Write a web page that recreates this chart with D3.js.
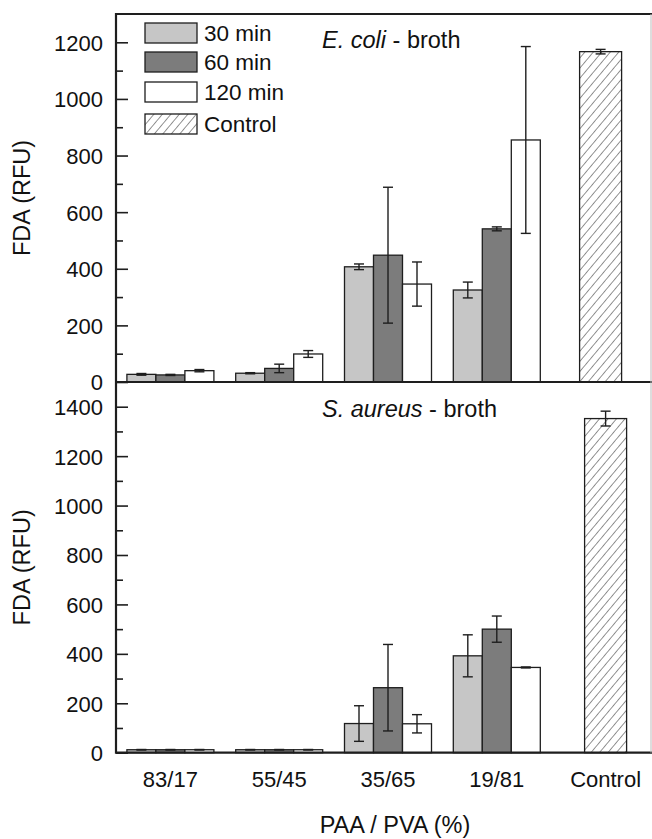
<!DOCTYPE html>
<html>
<head>
<meta charset="utf-8">
<script src="https://cdn.jsdelivr.net/npm/d3@7"></script>
<style>
  html, body { margin: 0; padding: 0; background: #fff; }
  svg { display: block; font-family: "Liberation Sans", Arial, sans-serif; }
</style>
</head>
<body>
<svg id="chart" width="652" height="839"></svg>
<script>
// Composition ratios (PAA / PVA, %) plus the untreated control
const categories = ["83/17", "55/45", "35/65", "19/81", "Control"];
const timepoints = ["30 min", "60 min", "120 min"];

// E. coli in broth: FDA fluorescence (RFU), mean and error
const ecoli30 = [27, 31, 407, 325];
const ecoli60 = [25, 48, 448, 541];
const ecoli120 = [40, 99, 346, 855];
const ecoliErr30 = [3, 2, 10, 28];
const ecoliErr60 = [2, 15, 240, 7];
const ecoliErr120 = [4, 12, 78, 330];
const ecoliControl = [1167];
const ecoliControlErr = [8];

// S. aureus in broth
const saureus30 = [12, 12, 118, 392];
const saureus60 = [12, 12, 263, 500];
const saureus120 = [12, 12, 117, 345];
const saureusErr30 = [1, 1, 72, 85];
const saureusErr60 = [1, 1, 175, 53];
const saureusErr120 = [1, 1, 37, 2];
const saureusControl = [1352];
const saureusControlErr = [30];

// Axis ticks
const ecoliTicks = [0, 200, 400, 600, 800, 1000, 1200];
const saureusTicks = [0, 200, 400, 600, 800, 1000, 1200, 1400];

const fills = { "30 min": "#c6c6c6", "60 min": "#7c7c7c", "120 min": "#ffffff" };
const ink = "#1e1e1e";

const svg = d3.select("#chart");

// Hatch for the control bars
const defs = svg.append("defs");
const pat = defs.append("pattern")
  .attr("id", "hatch")
  .attr("patternUnits", "userSpaceOnUse")
  .attr("width", 6.5).attr("height", 6.5)
  .attr("patternTransform", "rotate(40)");
pat.append("rect").attr("width", 6.5).attr("height", 6.5).attr("fill", "#fff");
pat.append("line")
  .attr("x1", 0).attr("y1", 0).attr("x2", 0).attr("y2", 6.5)
  .attr("stroke", "#3a3a3a").attr("stroke-width", 1.1);

const left = 116, right = 651;
const step = 108.8;
const x = d3.scaleBand()
  .domain(categories)
  .range([left, left + step * categories.length])
  .padding(0);
const sub = d3.scaleBand().domain(timepoints).range([-43.5, 43.5]).padding(0);
const controlW = 42;

function panel(cfg) {
  const y = d3.scaleLinear().domain([0, cfg.max]).range([cfg.bottom, cfg.top]);
  const g = svg.append("g");

  const groups = categories.slice(0, 4);
  const rows = [];
  timepoints.forEach((t, k) => {
    groups.forEach((c, i) => {
      rows.push({ cat: c, t: t, v: cfg.means[k][i], e: cfg.errs[k][i] });
    });
  });

  const cx = d => x(d.cat) + x.bandwidth() / 2;

  // grouped bars
  g.selectAll("rect.bar").data(rows).join("rect")
    .attr("class", "bar")
    .attr("x", d => cx(d) + sub(d.t))
    .attr("y", d => y(d.v))
    .attr("width", sub.bandwidth())
    .attr("height", d => y(0) - y(d.v))
    .attr("fill", d => fills[d.t])
    .attr("stroke", ink).attr("stroke-width", 1.3);

  // control bar
  const ctrl = [{ cat: "Control", v: cfg.control[0], e: cfg.controlErr[0] }];
  g.selectAll("rect.ctrl").data(ctrl).join("rect")
    .attr("class", "ctrl")
    .attr("x", d => cx(d) - controlW / 2 - cfg.ctrlShift)
    .attr("y", d => y(d.v))
    .attr("width", controlW)
    .attr("height", d => y(0) - y(d.v))
    .attr("fill", "url(#hatch)")
    .attr("stroke", ink).attr("stroke-width", 1.3);

  // error bars
  const errRows = rows.map(d => ({ x: cx(d) + sub(d.t) + sub.bandwidth() / 2, v: d.v, e: d.e }))
    .concat(ctrl.map(d => ({ x: cx(d) - cfg.ctrlShift, v: d.v, e: d.e })));
  const eg = g.selectAll("g.err").data(errRows).join("g").attr("class", "err")
    .attr("stroke", ink).attr("stroke-width", 1.4);
  eg.append("line")
    .attr("x1", d => d.x).attr("x2", d => d.x)
    .attr("y1", d => y(d.v - d.e)).attr("y2", d => y(d.v + d.e));
  eg.append("line")
    .attr("x1", d => d.x - 5).attr("x2", d => d.x + 5)
    .attr("y1", d => y(d.v + d.e)).attr("y2", d => y(d.v + d.e));
  eg.append("line")
    .attr("x1", d => d.x - 5).attr("x2", d => d.x + 5)
    .attr("y1", d => y(d.v - d.e)).attr("y2", d => y(d.v - d.e));

  // y axis with inward ticks and minor ticks
  const minor = d3.range(100, cfg.max, 200);
  g.append("g").attr("transform", `translate(${left},0)`)
    .call(d3.axisRight(y).tickValues(minor).tickSize(7).tickFormat(""))
    .call(a => a.select(".domain").remove())
    .call(a => a.selectAll("line").attr("stroke", ink).attr("stroke-width", 1.6));
  const ax = g.append("g").attr("transform", `translate(${left},0)`)
    .call(d3.axisRight(y).tickValues(cfg.ticks).tickSize(12).tickPadding(0).tickFormat(d3.format("d")));
  ax.select(".domain").remove();
  ax.selectAll("line").attr("stroke", ink).attr("stroke-width", 1.6);
  ax.selectAll("text")
    .attr("x", -13).attr("dy", "0.36em")
    .attr("text-anchor", "end")
    .attr("fill", "#111")
    .style("font-size", "22px");

  // y label
  g.append("text")
    .attr("transform", `translate(30,${(cfg.top + cfg.bottom) / 2}) rotate(-90)`)
    .attr("text-anchor", "middle")
    .attr("fill", "#111")
    .style("font-size", "23.5px")
    .text("FDA (RFU)");

  // panel title
  const title = g.append("text")
    .attr("x", 322).attr("y", cfg.titleY)
    .attr("fill", "#111")
    .style("font-size", "23.5px");
  title.append("tspan").style("font-style", "italic").text(cfg.organism);
  title.append("tspan").text(" - broth");

  return y;
}

const yTop = panel({
  max: 1300, top: 14, bottom: 382,
  means: [ecoli30, ecoli60, ecoli120],
  errs: [ecoliErr30, ecoliErr60, ecoliErr120],
  control: ecoliControl, controlErr: ecoliControlErr, ctrlShift: 5,
  ticks: ecoliTicks, organism: "E. coli", titleY: 48
});
const yBot = panel({
  max: 1500, top: 382, bottom: 752.7,
  means: [saureus30, saureus60, saureus120],
  errs: [saureusErr30, saureusErr60, saureusErr120],
  control: saureusControl, controlErr: saureusControlErr, ctrlShift: 0,
  ticks: saureusTicks, organism: "S. aureus", titleY: 417
});

// frame lines
const frame = svg.append("g").attr("stroke", ink).attr("stroke-width", 2.2).attr("fill", "none");
frame.append("line").attr("x1", left).attr("x2", 652).attr("y1", 14).attr("y2", 14);
frame.append("line").attr("x1", left).attr("x2", 652).attr("y1", yTop(0)).attr("y2", yTop(0));
frame.append("line").attr("x1", left).attr("x2", 652).attr("y1", yBot(0)).attr("y2", yBot(0));
frame.append("line").attr("x1", left).attr("x2", left).attr("y1", 13).attr("y2", yBot(0) + 1);
svg.append("line").attr("x1", right).attr("x2", right).attr("y1", 14).attr("y2", yBot(0))
  .attr("stroke", "#bbb").attr("stroke-width", 1);

// category labels
svg.append("g").selectAll("text").data(categories).join("text")
  .attr("x", d => x(d) + x.bandwidth() / 2)
  .attr("y", 787)
  .attr("text-anchor", "middle")
  .attr("fill", "#111")
  .style("font-size", "22px")
  .text(d => d);

svg.append("text")
  .attr("x", 395).attr("y", 833)
  .attr("text-anchor", "middle")
  .attr("fill", "#111")
  .style("font-size", "23.5px")
  .text("PAA / PVA (%)");

// legend
const legend = svg.append("g").attr("transform", "translate(145,23)");
const legendItems = timepoints.map(t => ({ label: t, fill: fills[t] }))
  .concat([{ label: "Control", fill: "url(#hatch)" }]);
const offsets = [0, 29, 59, 91];
const li = legend.selectAll("g").data(legendItems).join("g")
  .attr("transform", (d, i) => `translate(0,${offsets[i]})`);
li.append("rect")
  .attr("width", 52).attr("height", 20)
  .attr("fill", d => d.fill)
  .attr("stroke", ink).attr("stroke-width", 1.3);
li.append("text")
  .attr("x", 59).attr("y", 10).attr("dy", "0.36em")
  .attr("fill", "#111")
  .style("font-size", "22.5px")
  .text(d => d.label);
</script>
</body>
</html>
